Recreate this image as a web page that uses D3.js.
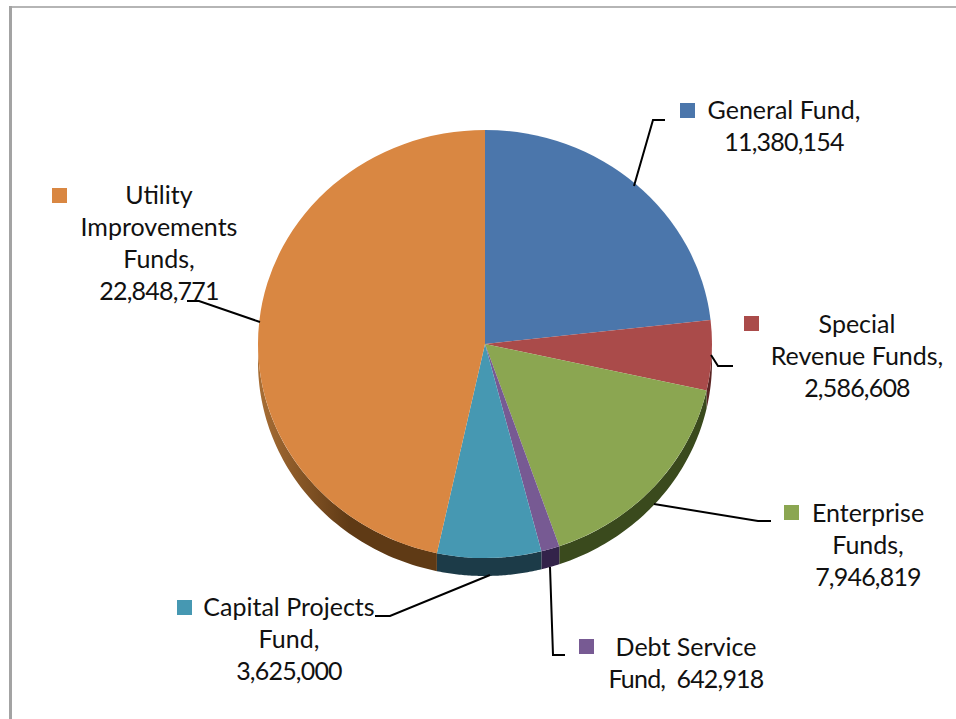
<!DOCTYPE html>
<html>
<head>
<meta charset="utf-8">
<script src="https://cdn.jsdelivr.net/npm/d3@7/dist/d3.min.js"></script>
<style>
html,body{margin:0;padding:0;background:#fff}
svg{display:block}
text{font-family:Lato,"Open Sans",sans-serif;font-size:25px;fill:#111;text-anchor:middle}
tspan.amount{letter-spacing:-0.8px}
</style>
</head>
<body>
<div id="chart"></div>
<script>
const funds = ["General Fund", "Special Revenue Funds", "Enterprise Funds", "Debt Service Fund", "Capital Projects Fund", "Utility Improvements Funds"];
const amounts = [11380154, 2586608, 7946819, 642918, 3625000, 22848771];
const topColors = ["#4b76ab", "#aa4b4a", "#8ba651", "#775a93", "#4698b2", "#d98742"];
const sideColors = ["#2b4362", "#5c2524", "#3a4a1d", "#33234a", "#1c3b48", "url(#utilityWall)"];
const labelLines = [
  ["General Fund,", "11,380,154"],
  ["Special", "Revenue Funds,", "2,586,608"],
  ["Enterprise", "Funds,", "7,946,819"],
  ["Debt Service", "Fund,  642,918"],
  ["Capital Projects", "Fund,", "3,625,000"],
  ["Utility", "Improvements", "Funds,", "22,848,771"]
];
const labelCenters = [[784, 119], [857, 333], [868, 522], [686, 656], [289, 616], [159, 204]];
const swatches = [[680, 103], [744, 316], [784, 505], [579, 639], [177, 600], [52, 188]];
const leaders = [
  [[665, 120], [653, 120], [634, 186]],
  [[733, 366], [718, 366], [711, 355]],
  [[771, 521], [758, 521], [654, 504]],
  [[565, 655], [553, 655], [550, 567]],
  [[375, 616], [390, 616], [490, 575]],
  [[187, 301], [199, 301], [260, 322]]
];

const W = 956, H = 719;
const cx = 485, cy = 344, rx = 227, ry = 214, depth = 18, R = 100;

const svg = d3.select("#chart").append("svg").attr("width", W).attr("height", H);

// The long utility wall fades from a lit brown at the left edge to a deep shadow
const wallShade = svg.append("defs").append("linearGradient")
  .attr("id", "utilityWall").attr("gradientUnits", "userSpaceOnUse")
  .attr("x1", 258).attr("y1", 0).attr("x2", 350).attr("y2", 0);
wallShade.append("stop").attr("offset", 0).attr("stop-color", "#a86e35");
wallShade.append("stop").attr("offset", 1).attr("stop-color", "#5f3a15");

// Frame: grey rules along the top and left edges
svg.append("rect").attr("x", 9).attr("y", 6).attr("width", W - 9).attr("height", 2).attr("fill", "#b5b5b5");
svg.append("rect").attr("x", 9).attr("y", 6).attr("width", 3).attr("height", H - 6).attr("fill", "#a3a3a3");

const slices = d3.pie().sort(null).value(d => d)(amounts);
const arc = d3.arc().innerRadius(0).outerRadius(R);

// Side wall: the front half of each slice's rim, extruded downward
const ex = a => cx + rx * Math.sin(a);
const ey = a => cy - ry * Math.cos(a);
const wall = svg.append("g");
slices.forEach((s, i) => {
  const a0 = Math.max(s.startAngle, Math.PI / 2);
  const a1 = Math.min(s.endAngle, 3 * Math.PI / 2);
  if (a1 <= a0) return;
  const p = d3.path();
  p.moveTo(ex(a0), ey(a0));
  const steps = d3.range(0, 61).map(k => a0 + (a1 - a0) * k / 60);
  steps.forEach(a => p.lineTo(ex(a), ey(a)));
  steps.slice().reverse().forEach(a => p.lineTo(ex(a), ey(a) + depth));
  p.closePath();
  wall.append("path").attr("d", p.toString()).attr("fill", sideColors[i]);
});

// Top face of the pie, a circular d3 arc flattened to the ellipse
svg.append("g")
  .attr("transform", `translate(${cx},${cy}) scale(${rx / R},${ry / R})`)
  .selectAll("path").data(slices).join("path")
  .attr("d", arc)
  .attr("fill", (d, i) => topColors[i]);

// Leader lines
const line = d3.line();
svg.append("g").selectAll("path").data(leaders).join("path")
  .attr("d", d => line(d))
  .attr("fill", "none").attr("stroke", "#000").attr("stroke-width", 2);

// Legend swatches
svg.append("g").selectAll("rect").data(swatches).join("rect")
  .attr("x", d => d[0]).attr("y", d => d[1])
  .attr("width", 15).attr("height", 15)
  .attr("fill", (d, i) => topColors[i]);

// Data labels
const labels = svg.append("g").selectAll("text").data(labelLines).join("text")
  .attr("x", (d, i) => labelCenters[i][0]).attr("y", (d, i) => labelCenters[i][1])
  .style("white-space", "pre");
labels.selectAll("tspan").data(d => d).join("tspan")
  .attr("class", d => /\d/.test(d) ? "amount" : null)
  .attr("x", function () { return d3.select(this.parentNode).attr("x"); })
  .attr("dy", (d, i) => i ? 32 : 0)
  .text(d => d);
</script>
</body>
</html>
